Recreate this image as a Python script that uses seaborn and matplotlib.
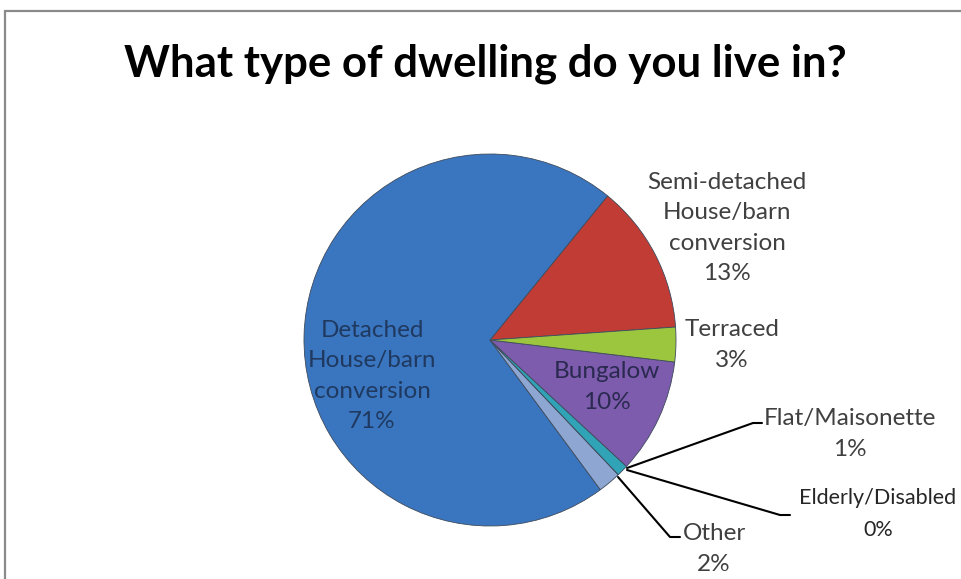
import numpy as np
import pandas as pd
import seaborn as sns
import matplotlib.pyplot as plt
from matplotlib.patches import Rectangle

# datos (orden antihorario desde la derecha)
categorias = ['Semi-detached\nHouse/barn\nconversion', 'Detached\nHouse/barn\nconversion',
              'Other', 'Elderly/Disabled', 'Flat/Maisonette', 'Bungalow', 'Terraced']
porcentajes = [13, 71, 2, 0, 1, 10, 3]
colores = ['#C13C35', '#3A76BF', '#8EA7D2', '#E6893A', '#30A3B6', '#7D5BAD', '#9DC63F']

W, H = 961, 579


def px(x, y):
    # coordenadas de pixel (origen arriba a la izquierda) -> datos
    return x, H - y


sns.set_theme()
sns.set_style(style='white')
plt.rcParams['font.family'] = ['Lato', 'DejaVu Sans']

fig = plt.figure(figsize=(W / 100, H / 100), dpi=100)
ax = fig.add_axes([0, 0, 1, 1])

ax.pie(porcentajes, colors=colores, startangle=4, center=px(490, 340), radius=186,
       wedgeprops=dict(edgecolor='#3d4a5c', linewidth=0.6))
ax.set_xlim(0, W)
ax.set_ylim(0, H)
ax.set_aspect('equal')
ax.axis('off')

# marco del area del grafico
ax.add_patch(Rectangle(px(5, 600), 1000, 589, fill=False, edgecolor='#8a8a8a', linewidth=1.6))

ax.text(*px(485, 64), 'What type of dwelling do you live in?', ha='center', va='center',
        fontsize=31.5, fontweight='bold', color='black')

# etiquetas: (x, y) en pixeles, color, tamano
pos_etiquetas = [(727, 228, '#404040', 17.5), (372, 376, '#1F3960', 17.5),
                 (714, 549, '#404040', 17.5), (878, 514, '#262626', 15.5),
                 (850, 434, '#404040', 17.5), (607, 387, '#2A2A50', 17.5),
                 (732, 345, '#404040', 17.5)]
for cat, pct, (x, y, c, fs) in zip(categorias, porcentajes, pos_etiquetas):
    ax.text(*px(x, y), f'{cat}\n{pct}%', ha='center', va='center', fontsize=fs,
            color=c, linespacing=1.55 * 17.5 / fs if fs < 17 else 1.55)

# lineas guia
guias = [[(627, 468), (753, 423), (762, 423)],
         [(627, 470), (780, 515), (790, 515)],
         [(618, 477), (670, 537), (680, 537)]]
for g in guias:
    xs, ys = zip(*[px(a, b) for a, b in g])
    ax.plot(xs, ys, color='black', linewidth=1.5)

fig.savefig('out.png', dpi=100)
